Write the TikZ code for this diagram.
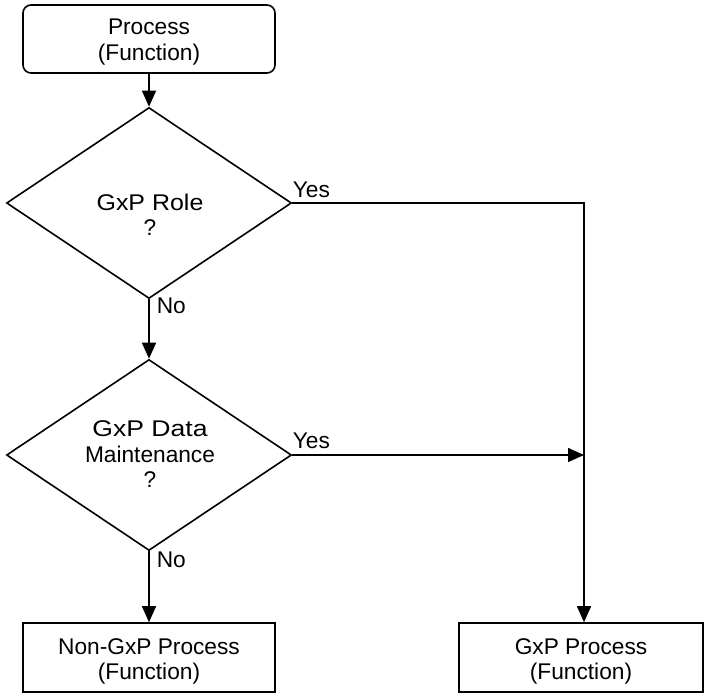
\documentclass[tikz,border=0pt]{standalone}
\usepackage{graphicx}
\usepackage{fontspec}
\setmainfont{Liberation Sans}
\usetikzlibrary{shapes.geometric,arrows.meta}
\begin{document}
\begin{tikzpicture}[x=1pt, y=-1pt, line width=1.6pt,
  every node/.style={font=\fontsize{22.7}{25.5}\selectfont, inner sep=0pt, align=center},
  procbox/.style={draw, rectangle, minimum width=252pt, minimum height=69pt},
  startbox/.style={procbox, rounded corners=8pt, minimum height=68pt},
  decision/.style={draw, diamond, minimum width=285pt, minimum height=191pt},
  tag/.style={anchor=base west},
  flow/.style={-{Triangle[width=14pt,length=16pt]}}]
\useasboundingbox (0,0) rectangle (704,693);

% boxes
\node[startbox] (proc) at (149,39) {};
\node (proctext) at (149,42) {Process\\(Function)};
\node[procbox] (nongxp) at (149,657.5) {};
\node (nongxptext) at (149,661.5) {Non-GxP Process\\(Function)};
\node[procbox, minimum width=244pt] (gxp) at (581,657.5) {};
\node (gxptext) at (581,661.5) {GxP Process\\(Function)};

% decisions
\node[decision] (role) at (149,203) {};
\node (roletext) at (150,215) {\scalebox{1.1}[1]{GxP Role}\\?};
\node[decision] (maint) at (149,455) {};
\node (mainttext) at (150,454.5) {\scalebox{1.17}[1]{GxP Data}\\Maintenance\\?};

% junction of the two "Yes" branches
\coordinate (turn) at (584,203);

% connectors
\draw[flow] (proc) -- (role);
\draw[flow] (role) -- (maint);
\draw[flow] (maint) -- (nongxp);
\draw[flow] (role.east) -- (turn) -- (turn |- gxp.north);
\draw[flow] (maint.east) -- (maint.east -| turn);

% branch labels
\node[tag] (yes1) at (292,197) {Yes};
\node[tag] (no1) at (156,313) {No};
\node[tag] (yes2) at (292,448) {Yes};
\node[tag] (no2) at (156,567) {No};
\end{tikzpicture}
\end{document}
